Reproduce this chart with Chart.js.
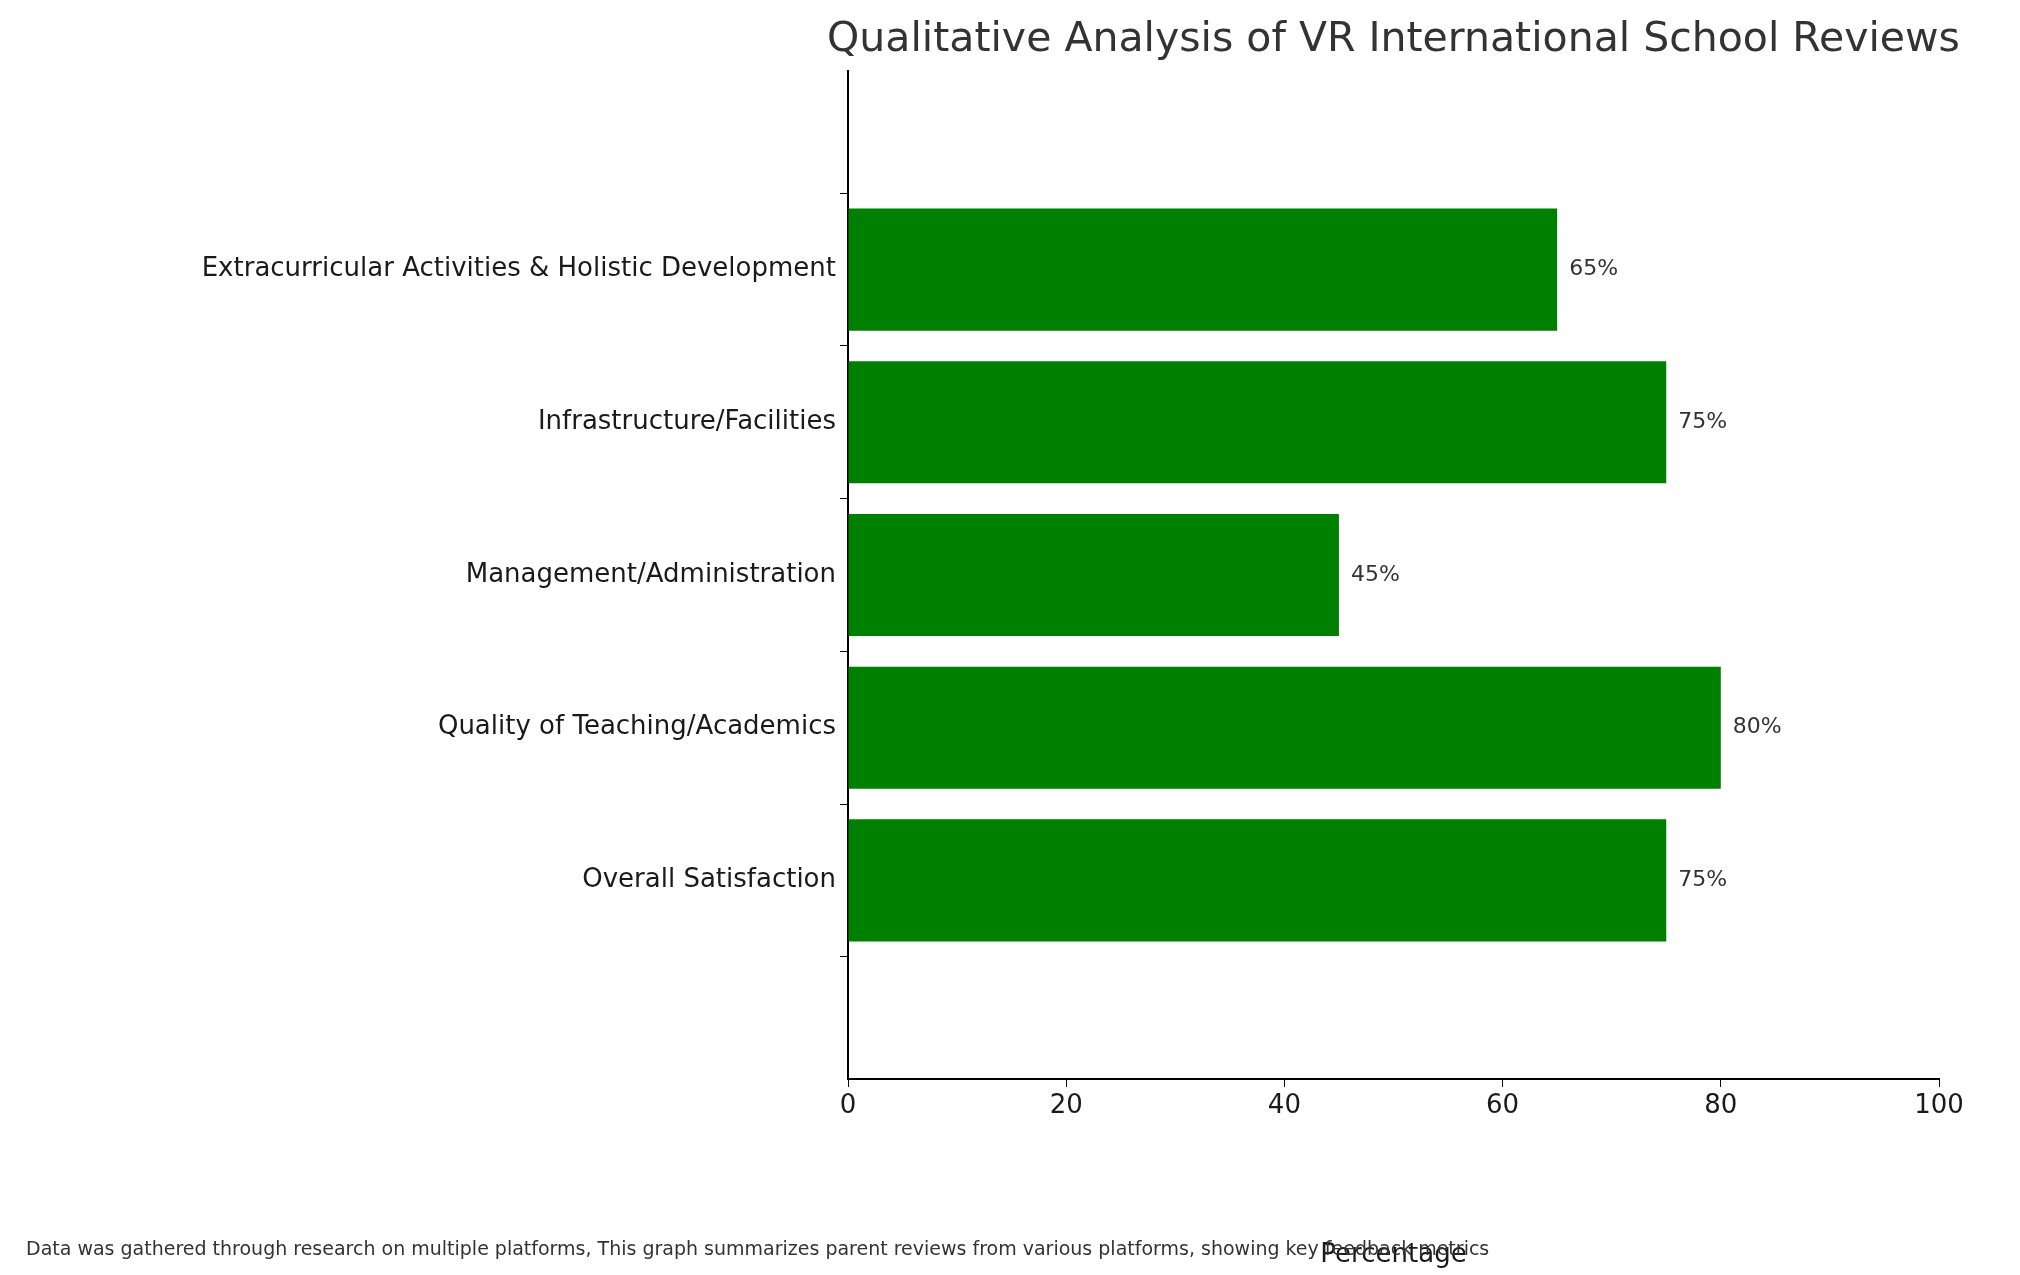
<!DOCTYPE html>
<html>
<head>
<meta charset="utf-8">
<script src="https://cdn.jsdelivr.net/npm/chart.js@4"></script>
<style>
  html, body { margin: 0; padding: 0; background: #fff; overflow: hidden; }
  #wrap { width: 2020px; height: 1275px; position: relative; }
</style>
</head>
<body>
<div id="wrap"><canvas id="chart" width="2020" height="1275"></canvas></div>
<script>
const categories = [
  'Extracurricular Activities & Holistic Development',
  'Infrastructure/Facilities',
  'Management/Administration',
  'Quality of Teaching/Academics',
  'Overall Satisfaction'
];
const percentages = [65, 75, 45, 80, 75];
const xTicks = [0, 20, 40, 60, 80, 100];

const titleText = 'Qualitative Analysis of VR International School Reviews';
const footText = 'Data was gathered through research on multiple platforms, This graph summarizes parent reviews from various platforms, showing key feedback metrics';

Chart.defaults.font.family = "'DejaVu Sans', sans-serif";
Chart.defaults.color = '#1a1a1a';

// title, value labels and footnote
const extras = {
  id: 'extras',
  afterDatasetsDraw(chart) {
    const { ctx, chartArea } = chart;
    const meta = chart.getDatasetMeta(0);
    ctx.save();
    ctx.fillStyle = '#333';
    ctx.font = "22px 'DejaVu Sans'";
    ctx.textBaseline = 'middle';
    ctx.textAlign = 'left';
    meta.data.forEach((bar, i) => {
      ctx.fillText(percentages[i] + '%', bar.x + 12, bar.y);
    });
    ctx.font = "41px 'DejaVu Sans'";
    ctx.textAlign = 'center';
    ctx.fillText(titleText, (chartArea.left + chartArea.right) / 2, 40);
    ctx.font = "19px 'DejaVu Sans'";
    ctx.textAlign = 'left';
    ctx.fillText(footText, 26, 1250);
    ctx.restore();
  }
};

new Chart(document.getElementById('chart'), {
  type: 'bar',
  data: {
    datasets: [{
      data: percentages.map((v, i) => ({ x: v, y: i })),
      backgroundColor: '#008000',
      barPercentage: 0.8,
      categoryPercentage: 1
    }]
  },
  options: {
    indexAxis: 'y',
    responsive: false,
    animation: false,
    devicePixelRatio: 1,
    layout: { padding: { top: 71, right: 81, left: 0, bottom: 0 } },
    plugins: { legend: { display: false }, tooltip: { enabled: false }, title: { display: false } },
    scales: {
      x: {
        type: 'linear', min: 0, max: 100,
        afterBuildTicks: (s) => { s.ticks = xTicks.map(v => ({ value: v })); },
        afterFit: (s) => { s.height = 1275 - 1079; },
        grid: { drawOnChartArea: false, drawTicks: true, tickLength: 8, tickColor: '#000' },
        border: { display: true, color: '#000', width: 2 },
        ticks: { font: { size: 26 }, color: '#1a1a1a', padding: 4, maxRotation: 0 },
        title: { display: true, text: 'Percentage', font: { size: 26 }, color: '#1a1a1a', padding: { top: 6 } }
      },
      y: {
        type: 'linear', min: -0.64, max: 4.64, reverse: true,
        afterBuildTicks: (s) => { s.ticks = categories.map((c, i) => ({ value: i })); },
        afterFit: (s) => { s.width = 848; },
        grid: { drawOnChartArea: false, drawTicks: true, tickLength: 8, tickColor: '#000' },
        border: { display: true, color: '#000', width: 2 },
        ticks: {
          font: { size: 26 }, color: '#1a1a1a', padding: 4,
          callback: (v) => categories[v]
        }
      }
    }
  },
  plugins: [extras]
});
</script>
</body>
</html>
